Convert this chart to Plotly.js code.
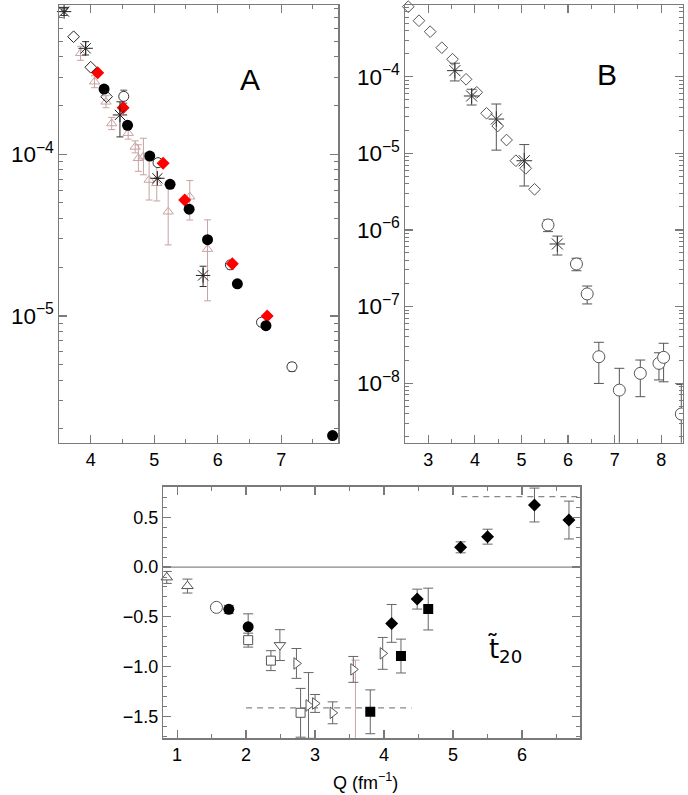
<!DOCTYPE html>
<html>
<head>
<meta charset="utf-8">
<script src="https://cdn.plot.ly/plotly-3.0.1.min.js"></script>
<style>html,body{margin:0;padding:0;background:#fff;}#chart{width:688px;height:795px;}</style>
</head>
<body>
<div id="chart"></div>
<script>
// ---------- Panel A ----------
const aTriQ = [3.84, 4.06, 4.24, 4.33, 4.59, 4.70, 4.83, 4.75, 4.92, 5.04, 5.22, 5.56, 5.84];
const aTriY = [4.21e-4, 2.81e-4, 2.11e-4, 1.55e-4, 1.35e-4, 1.11e-4, 9.66e-5, 9.44e-5, 6.93e-5, 6.61e-5, 4.41e-5, 5.46e-5, 2.59e-5];
const aTriErrP = [4.4e-5, 2.5e-5, 1.9e-5, 1.4e-5, 1.2e-5, 1.0e-5, 2.9e-5, 2.0e-5, 2.3e-5, 1.9e-5, 2.11e-5, 1.41e-5, 1.34e-5];
const aTriErrM = [4.0e-5, 2.3e-5, 1.7e-5, 1.3e-5, 1.1e-5, 0.9e-5, 2.2e-5, 1.6e-5, 1.72e-5, 1.47e-5, 1.66e-5, 1.54e-5, 1.35e-5];
const aTriDnQ = [3.58];
const aTriDnY = [7.87e-4];
const aOpenQ = [4.52, 5.06, 6.20, 6.69, 7.17];
const aOpenY = [2.28e-4, 8.87e-5, 2.07e-5, 9.14e-6, 4.85e-6];
const aOpenErr = [2.1e-5, 4e-6, 1.2e-6, 5e-7, 3e-7];
const aRedQ = [4.11, 4.51, 5.14, 5.48, 6.23, 6.78];
const aRedY = [3.19e-4, 1.94e-4, 8.79e-5, 5.21e-5, 2.10e-5, 1.0e-5];
const aCircQ = [4.21, 4.58, 4.93, 5.25, 5.55, 5.84, 6.31, 6.76, 7.81];
const aCircY = [2.53e-4, 1.51e-4, 9.75e-5, 6.52e-5, 4.57e-5, 2.96e-5, 1.58e-5, 8.7e-6, 1.82e-6];
const aStarQ = [3.58, 3.92, 4.46, 5.05, 5.77];
const aStarY = [7.62e-4, 4.52e-4, 1.75e-4, 7.10e-5, 1.78e-5];
const aStarErrP = [4e-5, 4.5e-5, 3.6e-5, 0, 2.5e-6];
const aStarErrM = [4e-5, 4.1e-5, 4.7e-5, 0, 2.6e-6];
const aDiaQ = [3.73, 4.00, 4.25];
const aDiaY = [5.33e-4, 3.45e-4, 2.27e-4];

// ---------- Panel B ----------
const bDiaQ = [2.57, 2.80, 3.04, 3.29, 3.52, 3.81, 4.04, 4.25, 4.49, 4.68, 4.88, 5.09, 5.28];
const bDiaY = [8.2e-4, 5.38e-4, 3.87e-4, 2.39e-4, 1.69e-4, 9.25e-5, 6.25e-5, 3.33e-5, 2.27e-5, 1.49e-5, 8.0e-6, 6.37e-6, 3.39e-6];
const bStarQ = [3.57, 3.93, 4.46, 5.06, 5.77];
const bStarY = [1.20e-4, 5.60e-5, 2.80e-5, 8.0e-6, 6.55e-7];
const bStarErrP = [3.0e-5, 1.25e-5, 1.6e-5, 5.0e-6, 1.75e-7];
const bStarErrM = [3.2e-5, 1.33e-5, 1.7e-5, 4.26e-6, 1.85e-7];
const bCircQ = [5.57, 6.18, 6.41, 6.66, 7.10, 7.55, 7.95, 8.05, 8.43];
const bCircY = [1.16e-6, 3.59e-7, 1.46e-7, 2.21e-8, 8.1e-9, 1.34e-8, 1.81e-8, 2.17e-8, 3.95e-9];
const bCircErrP = [1.9e-7, 6.7e-8, 3.9e-8, 1.2e-8, 7.5e-9, 6.6e-9, 6.8e-9, 1.14e-8, 5.65e-9];
const bCircErrM = [2.1e-7, 6.6e-8, 3.8e-8, 1.22e-8, 8.09e-9, 6.75e-9, 7.1e-9, 1.13e-8, 3.94e-9];

// ---------- Panel C ----------
const cTriUpQ = [0.85, 1.15];
const cTriUpY = [-0.104, -0.191];
const cTriUpErr = [0.06, 0.07];
const cOpenCircQ = [1.57];
const cOpenCircY = [-0.405];
const cCircQ = [1.75, 2.03];
const cCircY = [-0.425, -0.600];
const cCircErr = [0.04, 0.13];
const cSqQ = [2.03, 2.36, 2.79];
const cSqY = [-0.734, -0.940, -1.464];
const cSqErr = [0.07, 0.10, 0.245];
const cTriDnQ = [2.49];
const cTriDnY = [-0.784];
const cTriDnErr = [0.155];
const cTriRQ = [2.73, 2.905, 3.00, 3.255, 3.554, 3.98];
const cTriRY = [-0.968, -1.39, -1.37, -1.464, -1.028, -0.867];
const cTriRErr = [0.15, 0.33, 0.09, 0.11, 0.13, 0.16];
const cPinkQ = [3.585];
const cPinkY = [-1.03];
const cPinkErrP = [0.095];
const cPinkErrM = [0.8];
const cBSqQ = [3.80, 4.245, 4.64];
const cBSqY = [-1.454, -0.894, -0.422];
const cBSqErr = [0.22, 0.17, 0.21];
const cBDiaQ = [4.11, 4.48, 5.11, 5.50, 6.18, 6.68];
const cBDiaY = [-0.566, -0.322, 0.198, 0.305, 0.623, 0.472];
const cBDiaErr = [0.19, 0.10, 0.055, 0.075, 0.17, 0.19];
const cLimLow = -1.414;
const cLimHigh = 0.707;

// ---------- helpers ----------
const W = 688, H = 795;
const FONT = 'Liberation Sans, Arial, Helvetica, sans-serif';
const px = v => v / W;
const py = v => 1 - v / H;

function ebSym(arr, color, w) {
  return {type: 'data', array: arr, visible: true, color: color, thickness: 1, width: w || 4};
}
function ebAsym(p, m, color, w) {
  return {type: 'data', symmetric: false, array: p, arrayminus: m, visible: true, color: color, thickness: 1, width: w || 4};
}
function sc(x, y, xa, ya, marker, err, clip) {
  const t = {type: 'scatter', mode: 'markers', x: x, y: y, xaxis: xa, yaxis: ya, marker: marker, showlegend: false, hoverinfo: 'x+y', cliponaxis: clip === undefined ? true : clip};
  if (err) t.error_y = err;
  return t;
}
// open marker drawn with white fill so that error bars do not show through it
function openM(symbol, size, color) {
  return {symbol: symbol, size: size, color: '#ffffff', line: {color: color, width: 1}};
}

const rosy = '#c8a2a2';
const data = [
  // Panel A
  sc(aTriQ, aTriY, 'x', 'y', {symbol: 'triangle-up-open', size: 9, color: rosy, line: {color: rosy, width: 1}}, ebAsym(aTriErrP, aTriErrM, rosy, 3.5)),
  sc(aTriDnQ, aTriDnY, 'x', 'y', {symbol: 'triangle-down-open', size: 8, color: '#333', line: {color: '#333', width: 1}}, null, false),
  sc(aOpenQ, aOpenY, 'x', 'y', openM('circle', 10, '#333'), ebSym(aOpenErr, '#555', 3.5)),
  sc(aRedQ, aRedY, 'x', 'y', {symbol: 'diamond', size: 10, color: '#ff0000', line: {width: 0}}),
  sc(aCircQ, aCircY, 'x', 'y', {symbol: 'circle', size: 11, color: '#000', line: {width: 0}}),
  sc(aStarQ, aStarY, 'x', 'y', {symbol: 'asterisk-open', size: 12, color: '#222', line: {color: '#222', width: 1}}, ebAsym(aStarErrP, aStarErrM, '#333', 3.5), false),
  sc(aDiaQ, aDiaY, 'x', 'y', {symbol: 'diamond-open', size: 9, color: '#222', line: {color: '#222', width: 1}}),
  // Panel B
  sc(bDiaQ, bDiaY, 'x2', 'y2', {symbol: 'diamond-open', size: 9, color: '#555', line: {color: '#555', width: 1}}, null, false),
  sc(bStarQ, bStarY, 'x2', 'y2', {symbol: 'asterisk-open', size: 13, color: '#333', line: {color: '#333', width: 1}}, ebAsym(bStarErrP, bStarErrM, '#555', 5)),
  sc(bCircQ, bCircY, 'x2', 'y2', openM('circle', 12, '#555'), ebAsym(bCircErrP, bCircErrM, '#555', 5)),
  // Panel C
  sc(cTriUpQ, cTriUpY, 'x3', 'y3', openM('triangle-up', 10, '#555'), ebSym(cTriUpErr, '#666', 5), false),
  sc(cOpenCircQ, cOpenCircY, 'x3', 'y3', openM('circle', 12, '#555')),
  sc(cCircQ, cCircY, 'x3', 'y3', {symbol: 'circle', size: 11, color: '#000'}, ebSym(cCircErr, '#666', 5)),
  sc(cSqQ, cSqY, 'x3', 'y3', openM('square', 9, '#555'), ebSym(cSqErr, '#666', 5)),
  sc(cTriDnQ, cTriDnY, 'x3', 'y3', openM('triangle-down', 10, '#555'), ebSym(cTriDnErr, '#666', 5)),
  sc(cPinkQ, cPinkY, 'x3', 'y3', {symbol: 'circle', size: 1, color: rosy}, ebAsym(cPinkErrP, cPinkErrM, rosy, 4)),
  sc(cTriRQ, cTriRY, 'x3', 'y3', openM('triangle-right', 10, '#555'), ebSym(cTriRErr, '#666', 5)),
  sc(cBSqQ, cBSqY, 'x3', 'y3', {symbol: 'square', size: 10, color: '#000'}, ebSym(cBSqErr, '#666', 5)),
  sc(cBDiaQ, cBDiaY, 'x3', 'y3', {symbol: 'diamond', size: 10, color: '#000'}, ebSym(cBDiaErr, '#666', 5))
];

const axColor = '#7a7a7a';
function ax(extra) {
  return Object.assign({
    showline: true, linecolor: axColor, linewidth: 1.5, mirror: 'allticks',
    ticks: 'inside', ticklen: 8, tickwidth: 1.2, tickcolor: axColor,
    showgrid: false, zeroline: false, automargin: false,
    tickfont: {family: FONT, size: 18, color: '#000'},
    minor: {ticks: 'inside', ticklen: 4, tickwidth: 1, tickcolor: axColor, showgrid: false}
  }, extra);
}
function logMinor() {
  return {ticks: 'inside', ticklen: 4, tickwidth: 1, tickcolor: axColor, showgrid: false, dtick: 'D1'};
}
function linMinor(d) {
  return {ticks: 'inside', ticklen: 4, tickwidth: 1, tickcolor: axColor, dtick: d, showgrid: false};
}

const layout = {
  width: W, height: H,
  margin: {l: 0, r: 0, t: 0, b: 0},
  paper_bgcolor: '#fff', plot_bgcolor: '#fff',
  showlegend: false,
  font: {family: FONT, size: 18, color: '#000'},
  xaxis: ax({domain: [px(59), px(338.3)], range: [3.5, 7.9], anchor: 'y', dtick: 1, tick0: 0, minor: linMinor(0.5)}),
  yaxis: ax({domain: [py(442.7), py(5)], type: 'log', range: [-5.784, -3.077], anchor: 'x', dtick: 1,
    exponentformat: 'power', minor: logMinor()}),
  xaxis2: ax({domain: [px(405), px(682.7)], range: [2.5, 8.46], anchor: 'y2', dtick: 1, tick0: 0, minor: linMinor(0.5)}),
  yaxis2: ax({domain: [py(442.7), py(5)], type: 'log', range: [-8.778, -3.064], anchor: 'x2', dtick: 1,
    exponentformat: 'power', minor: logMinor()}),
  xaxis3: ax({domain: [px(163.3), px(580)], range: [0.8, 6.84], anchor: 'y3', dtick: 1, tick0: 0, minor: linMinor(0.5)}),
  yaxis3: ax({domain: [py(738.3), py(486.7)], range: [-1.72, 0.807], anchor: 'x3', dtick: 0.5, tick0: 0,
    tickformat: '.1f', minor: linMinor(0.1)}),
  shapes: [
    {type: 'line', xref: 'x3 domain', yref: 'y3', x0: 0, x1: 1, y0: 0, y1: 0, line: {color: '#888', width: 1.3}, layer: 'below'},
    {type: 'line', xref: 'x3', yref: 'y3', x0: 2.0, x1: 4.4, y0: cLimLow, y1: cLimLow, line: {color: '#888', width: 1.2, dash: '6px,5px'}, layer: 'below'},
    {type: 'line', xref: 'x3', yref: 'y3', x0: 5.12, x1: 6.84, y0: cLimHigh, y1: cLimHigh, line: {color: '#888', width: 1.2, dash: '6px,5px'}, layer: 'below'}
  ],
  annotations: [
    {text: 'A', xref: 'paper', yref: 'paper', x: px(250), y: py(80), xanchor: 'center', yanchor: 'middle', showarrow: false, font: {family: FONT, size: 30, color: '#000'}},
    {text: 'B', xref: 'paper', yref: 'paper', x: px(607), y: py(75), xanchor: 'center', yanchor: 'middle', showarrow: false, font: {family: FONT, size: 30, color: '#000'}},
    {text: 't\u0303<sub>20</sub>', xref: 'paper', yref: 'paper', x: px(486), y: py(650), xanchor: 'left', yanchor: 'middle', showarrow: false, font: {family: 'DejaVu Sans, Liberation Sans, sans-serif', size: 26, color: '#000'}},
    {text: 'Q (fm<sup>−1</sup>)', xref: 'paper', yref: 'paper', x: px(366), y: py(781), xanchor: 'center', yanchor: 'middle', showarrow: false, font: {family: FONT, size: 18, color: '#000'}}
  ]
};

Plotly.newPlot('chart', data, layout, {staticPlot: true, displayModeBar: false});
</script>
</body>
</html>
